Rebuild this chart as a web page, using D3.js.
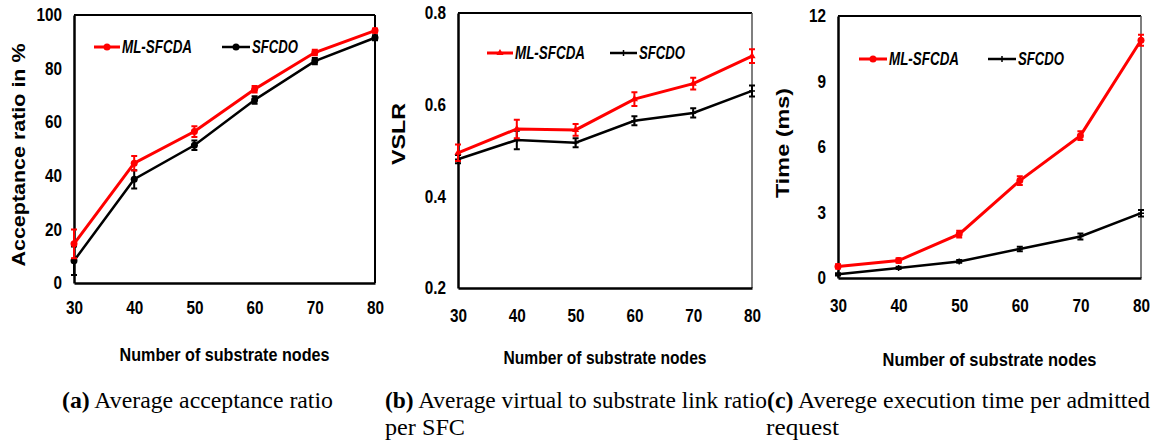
<!DOCTYPE html>
<html><head><meta charset="utf-8">
<script src="https://cdn.jsdelivr.net/npm/d3@7"></script>
<style>
html,body{margin:0;padding:0;background:#fff;}
svg{display:block;}
</style></head>
<body>
<svg id="chart" width="1159" height="444"></svg>
<script>
// ---- data ----
const nodes = [30, 40, 50, 60, 70, 80];
const seriesNames = ["ML-SFCDA", "SFCDO"];

const accML = [14.6, 44.7, 56.5, 72.3, 86.0, 94.2];
const accMLErr = [5.4, 2.7, 2.0, 1.2, 1.0, 0.8];
const accSF = [8.3, 38.7, 51.4, 68.3, 82.8, 91.5];
const accSFErr = [5.3, 3.4, 1.8, 1.4, 1.2, 0.9];
const accTicks = [0, 20, 40, 60, 80, 100];

const vslrML = [0.495, 0.547, 0.545, 0.612, 0.646, 0.706];
const vslrMLErr = [0.018, 0.020, 0.013, 0.015, 0.013, 0.015];
const vslrSF = [0.481, 0.523, 0.517, 0.565, 0.582, 0.630];
const vslrSFErr = [0.009, 0.020, 0.010, 0.010, 0.010, 0.012];
const vslrTicks = [0.2, 0.4, 0.6, 0.8];

const timeML = [0.53, 0.80, 2.01, 4.46, 6.52, 10.89];
const timeMLErr = [0.10, 0.10, 0.15, 0.20, 0.20, 0.25];
const timeSF = [0.17, 0.46, 0.76, 1.33, 1.90, 2.97];
const timeSFErr = [0.05, 0.05, 0.06, 0.10, 0.14, 0.15];
const timeTicks = [0, 3, 6, 9, 12];

const xTitle = "Number of substrate nodes";
const yTitles = ["Acceptance ratio in %", "VSLR", "Time (ms)"];
const captions = [
  [["(a)", " Average acceptance ratio"]],
  [["(b)", " Average virtual to substrate link ratio"], ["", "per SFC"]],
  [["(c)", " Averege execution time per admitted"], ["", "request"]]
];

// ---- layout ----
const NARROW = "'Liberation Sans Narrow','Arial Narrow','Liberation Sans',Arial,sans-serif";
const SANS = "'Liberation Sans',Arial,sans-serif";
const SERIF = "'Liberation Serif','Times New Roman',serif";
const RED = "#ff0000", BLACK = "#000000";

const panels = [
  { ml: accML, mlErr: accMLErr, sf: accSF, sfErr: accSFErr, ticks: accTicks, domain: [0, 100],
    box: {l: 74, t: 15, r: 375, b: 283}, xLabY: 313, xTitleY: 361, yTitleX: 25, yTitleY: 155, yTitleLen: 223,
    legY: 47, leg1: [94, 120], leg2: [222, 250], mlMark: "circle", sfMark: "circle", rightGray: false,
    fmt: d => d, titleLen: 210,
    cap: [{x: 62, len: 271}] },
  { ml: vslrML, mlErr: vslrMLErr, sf: vslrSF, sfErr: vslrSFErr, ticks: vslrTicks, domain: [0.2, 0.8],
    box: {l: 458, t: 13, r: 752, b: 288}, xLabY: 321, xTitleY: 364, yTitleX: 405, yTitleY: 134, yTitleLen: 62,
    legY: 53, leg1: [487, 513], leg2: [610, 637], mlMark: "triangle", sfMark: "plus", rightGray: true,
    fmt: d => d.toFixed(1), titleLen: 203,
    cap: [{x: 385, len: 382}, {x: 385, len: 80}] },
  { ml: timeML, mlErr: timeMLErr, sf: timeSF, sfErr: timeSFErr, ticks: timeTicks, domain: [0, 12],
    box: {l: 838, t: 16, r: 1141, b: 278}, xLabY: 311, xTitleY: 366, yTitleX: 789, yTitleY: 143, yTitleLen: 110,
    legY: 59, leg1: [859, 887], leg2: [988, 1016], mlMark: "circle", sfMark: "plus", rightGray: true,
    fmt: d => d, titleLen: 214,
    cap: [{x: 767, len: 383}, {x: 766, len: 73}] }
];

const svg = d3.select("#chart");

function marker(g, type, x, y, color) {
  if (type === "circle") {
    g.append("circle").attr("cx", x).attr("cy", y).attr("r", 3.5).attr("fill", color);
  } else if (type === "triangle") {
    g.append("path").attr("d", d3.symbol(d3.symbolTriangle, 22)()).attr("transform", `translate(${x},${y})`).attr("fill", color);
  } else {
    g.append("path").attr("d", `M${x-3},${y}H${x+3}M${x},${y-3}V${y+3}`).attr("stroke", color).attr("stroke-width", 1.5);
  }
}

function condense(sel, k) {
  sel.each(function() {
    const w = this.getComputedTextLength();
    d3.select(this).attr("textLength", w * k).attr("lengthAdjust", "spacingAndGlyphs");
  });
}

panels.forEach((p, pi) => {
  const g = svg.append("g");
  const x = d3.scaleLinear().domain([nodes[0], nodes[nodes.length - 1]]).range([p.box.l, p.box.r]);
  const y = d3.scaleLinear().domain(p.domain).range([p.box.b, p.box.t]);

  // frame
  g.append("line").attr("x1", p.box.l).attr("x2", p.box.r).attr("y1", p.box.t).attr("y2", p.box.t)
    .attr("stroke", "#000").attr("stroke-width", 2);
  g.append("line").attr("x1", p.box.r).attr("x2", p.box.r).attr("y1", p.box.t).attr("y2", p.box.b)
    .attr("stroke", p.rightGray ? "#555" : "#000").attr("stroke-width", p.rightGray ? 1.5 : 2);

  // axes
  const xAxis = g.append("g").attr("transform", `translate(0,${p.box.b})`)
    .call(d3.axisBottom(x).tickValues(nodes).tickSize(0).tickPadding(p.xLabY - p.box.b - 12));
  const yAxis = g.append("g").attr("transform", `translate(${p.box.l},0)`)
    .call(d3.axisLeft(y).tickValues(p.ticks).tickSize(0).tickPadding(12).tickFormat(p.fmt));
  [xAxis, yAxis].forEach(a => {
    a.select(".domain").attr("stroke", "#000").attr("stroke-width", 2.5);
    a.selectAll("text").attr("font-family", NARROW).attr("font-weight", "bold")
      .attr("font-size", 18).attr("fill", "#000");
    condense(a.selectAll("text"), 0.85);
  });
  xAxis.selectAll("text").attr("dy", "0.71em");

  // titles
  g.append("text").attr("x", (p.box.l + p.box.r) / 2).attr("y", p.xTitleY)
    .attr("text-anchor", "middle").attr("font-family", NARROW).attr("font-weight", "bold")
    .attr("font-size", 19).attr("textLength", p.titleLen).attr("lengthAdjust", "spacingAndGlyphs")
    .text(xTitle);
  g.append("text").attr("transform", `translate(${p.yTitleX},${p.yTitleY}) rotate(-90)`)
    .attr("text-anchor", "middle").attr("font-family", SANS).attr("font-weight", "bold")
    .attr("font-size", 18).attr("textLength", p.yTitleLen).attr("lengthAdjust", "spacingAndGlyphs")
    .text(yTitles[pi]);

  // series
  const series = [
    {v: p.ml, e: p.mlErr, c: RED, w: 3, m: p.mlMark, leg: p.leg1, tl: 70},
    {v: p.sf, e: p.sfErr, c: BLACK, w: 2.5, m: p.sfMark, leg: p.leg2, tl: 46}
  ];
  const line = d3.line().x((d, i) => x(nodes[i])).y(d => y(d));
  series.slice().reverse().forEach(s => {
    const sg = g.append("g");
    sg.append("path").attr("d", line(s.v)).attr("fill", "none").attr("stroke", s.c).attr("stroke-width", s.w);
    s.v.forEach((v, i) => {
      const cx = x(nodes[i]);
      const y1 = y(v - s.e[i]), y2 = y(v + s.e[i]);
      sg.append("path").attr("d", `M${cx},${y1}V${y2}M${cx-3},${y1}H${cx+3}M${cx-3},${y2}H${cx+3}`)
        .attr("stroke", s.c).attr("stroke-width", 2).attr("fill", "none");
      marker(sg, s.m, cx, y(v), s.c);
    });
  });

  // legend
  series.forEach((s, si) => {
    const lg = g.append("g");
    lg.append("line").attr("x1", s.leg[0]).attr("x2", s.leg[1]).attr("y1", p.legY).attr("y2", p.legY)
      .attr("stroke", s.c).attr("stroke-width", s.w);
    marker(lg, s.m, (s.leg[0] + s.leg[1]) / 2, p.legY, s.c);
    lg.append("text").attr("x", s.leg[1] + 2).attr("y", p.legY).attr("dy", "0.36em")
      .attr("font-family", NARROW).attr("font-weight", "bold").attr("font-style", "italic")
      .attr("font-size", 18).attr("fill", "#000")
      .attr("textLength", s.tl).attr("lengthAdjust", "spacingAndGlyphs").text(seriesNames[si]);
  });

  // caption
  captions[pi].forEach((ln, li) => {
    const t = svg.append("text").attr("x", p.cap[li].x).attr("y", 408 + li * 27)
      .attr("font-family", SERIF).attr("font-size", 23).attr("fill", "#000")
      .attr("textLength", p.cap[li].len).attr("lengthAdjust", "spacingAndGlyphs");
    if (ln[0]) t.append("tspan").attr("font-weight", "bold").text(ln[0]);
    t.append("tspan").text(ln[1]);
  });
});
</script>
</body></html>
